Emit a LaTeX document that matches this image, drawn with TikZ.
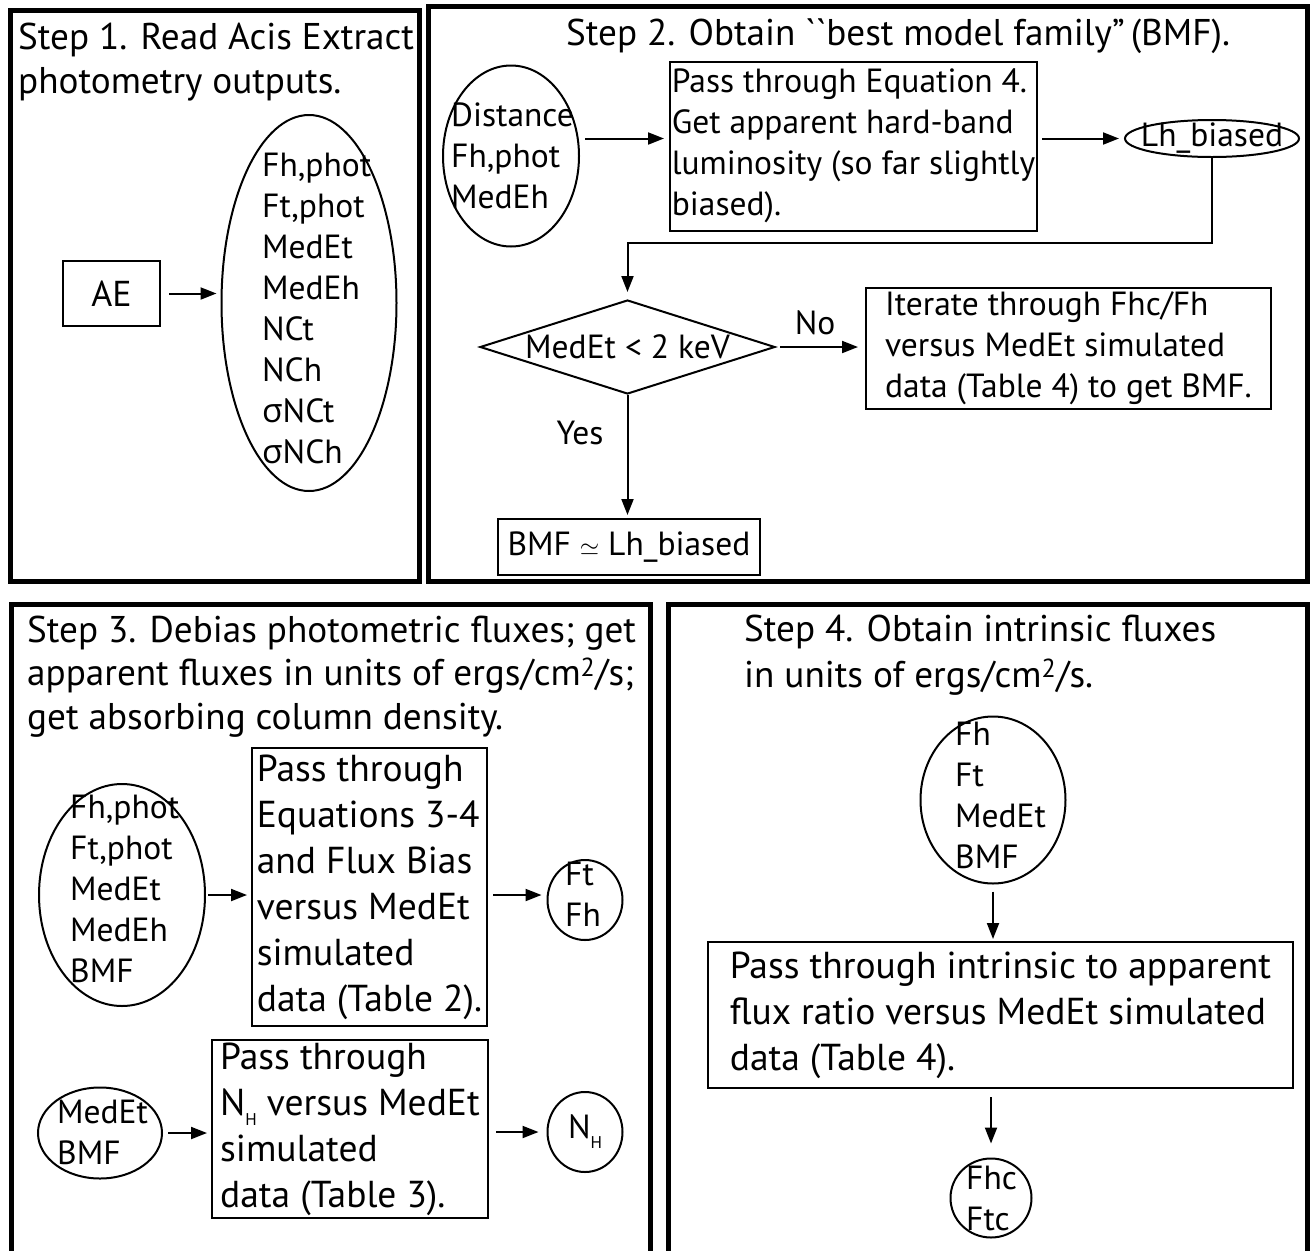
\documentclass[tikz,border=0pt]{standalone}
\usepackage{fontspec}
\setmainfont{PT Sans}
\newfontfamily\grk{Open Sans}
\usetikzlibrary{shapes.geometric,arrows.meta,positioning}
\newcommand{\NH}{N\raisebox{-10pt}{\fontsize{17}{17}\selectfont H}}

\begin{document}
\begin{tikzpicture}[x=1pt,y=-1pt,>={Triangle[length=16pt,width=12pt]},
  font=\fontsize{33.5}{41}\selectfont,
  panel/.style={line width=5pt},
  box/.style={draw,line width=2pt,align=left,inner sep=0pt,anchor=north west},
  oval/.style={draw,ellipse,line width=2pt,inner sep=-45pt},
  list/.style={align=left,inner sep=0pt},
  flow/.style={->,line width=2pt,shorten <=5pt,shorten >=5pt},
  title/.style={anchor=base west,inner sep=0pt,align=left,font=\fontsize{37.2}{43.5}\selectfont},
  big/.style={font=\fontsize{37.5}{46}\selectfont}]
  \useasboundingbox (0,0) rectangle (1310,1251);
  % the four panels (lower two run off the page)
  \draw[panel] (10,10) rectangle (419,581);
  \draw[panel] (428,6) rectangle (1307,581);
  \draw[panel] (11,1260) |- (650,604) -- (650,1260);
  \draw[panel] (668,1260) |- (1307,604) -- (1307,1260);

  % Step 1 (base anchor = last line)
  \node[title] (t1) at (18,93) {Step 1. Read Acis Extract\\photometry outputs.};
  \node[draw,line width=2pt,minimum width=97pt,minimum height=65pt,font=\fontsize{36}{40}\selectfont] (ae) at (111.5,293.5) {AE};
  \node[oval,minimum width=175pt,minimum height=376pt] (aeout) at (309,303) {};
  \node[list,right] (aelist) at (262,308.5)
    {Fh,phot\\Ft,phot\\MedEt\\MedEh\\NCt\\NCh\\{\grk σ}NCt\\{\grk σ}NCh};
  \draw[flow,shorten <=8pt,shorten >=4pt] (ae.east) -- (ae.east -| aeout.west);

  % Step 2
  \node[title] (t2) at (566,45) {Step 2. Obtain \textasciigrave\textasciigrave best model family''\,(BMF).};
  \node[oval,minimum width=136pt,minimum height=181pt] (p2in) at (511,156) {};
  \node[list,right] (p2list) at (451,156) {Distance\\Fh,phot\\MedEh};
  \node[box,minimum width=367pt,minimum height=169pt] (eq4) at (669,60.5)
    {Pass through Equation 4.\\Get apparent hard-band\\luminosity (so far slightly\\biased).};
  \node[oval,minimum width=174pt,minimum height=37pt] (lh) at (1212,138.5) {Lh\_biased};
  \draw[flow] (p2in.east |- lh.west) -- (eq4.west |- lh.west);
  \draw[flow,shorten <=4pt] (eq4.east |- lh.west) -- (lh.west);
  \node[diamond,draw,line width=2pt,aspect=3.2,inner sep=0pt,minimum width=295pt,minimum height=94pt] (dec) at (627.5,347) {MedEt < 2 keV};
  \draw[flow,shorten <=0pt,shorten >=7pt] (lh.south) -- ++(0,85) -| (dec.north);
  \node[box,minimum width=405pt,minimum height=121pt] (iter) at (865,287)
    {Iterate through Fhc/Fh\\versus MedEt simulated\\data (Table 4) to get BMF.};
  \draw[flow,shorten <=4pt,shorten >=7pt] (dec.east) -- (iter.west |- dec.east);
  \node (no) at (815,323) {No};
  \node[draw,line width=2pt,minimum width=262pt,minimum height=56pt] (bmf) at (629,547) {BMF $\simeq$ Lh\_biased};
  \draw[flow,shorten <=0pt,shorten >=3pt] (dec.south) -- (dec.south |- bmf.north);
  \node (yes) at (580,433) {Yes};

  % Step 3
  \node[title] (t3) at (27,729) {Step 3. Debias photometric fluxes; get\\apparent fluxes in units of ergs/cm\textsuperscript{2}/s;\\get absorbing column density.};
  \node[oval,minimum width=166pt,minimum height=222pt] (p3in) at (122,895) {};
  \node[list,right] (p3list) at (70,888.5) {Fh,phot\\Ft,phot\\MedEt\\MedEh\\BMF};
  \node[box,big,minimum width=235pt,minimum height=278pt] (debias) at (251,747)
    {Pass through\\Equations 3-4\\and Flux Bias\\versus MedEt\\simulated\\data (Table 2).};
  \node[oval,minimum width=75pt,minimum height=80pt] (ftfh) at (585,900) {};
  \node[list,right] (ftfhlist) at (565,894) {Ft\\Fh};
  \draw[flow,shorten <=2pt,shorten >=4pt] (p3in.east) -- (debias.west |- p3in.east);
  \draw[flow] (debias.east |- p3in.east) -- (ftfh.west |- p3in.east);
  \node[oval,minimum width=124pt,minimum height=91pt] (p3in2) at (100,1133) {};
  \node[list,right] (p3list2) at (57,1132) {MedEt\\BMF};
  \node[box,big,minimum width=276pt,minimum height=178pt] (nhbox) at (211,1039)
    {Pass through\\\NH{} versus MedEt\\simulated\\data (Table 3).};
  \node[oval,minimum width=75pt,minimum height=80pt] (nh) at (585,1132) {\NH};
  \draw[flow,shorten >=4pt] (p3in2.east) -- (p3in2.east -| nhbox.west);
  \draw[flow,shorten <=7pt,shorten >=8pt] (nhbox.east |- nh.west) -- (nh.west);

  % Step 4
  \node[title] (t4) at (744,687) {Step 4. Obtain intrinsic fluxes\\[2pt]in units of ergs/cm\textsuperscript{2}/s.};
  \node[oval,minimum width=145pt,minimum height=167pt] (p4in) at (993,800) {};
  \node[list,right] (p4list) at (955,795) {Fh\\Ft\\MedEt\\BMF};
  \node[box,big,minimum width=585pt,minimum height=146pt] (ratio) at (707,941)
    {Pass through intrinsic to apparent\\flux ratio versus MedEt simulated\\data (Table 4).};
  \node[oval,minimum width=81pt,minimum height=79pt] (p4out) at (991,1198) {};
  \node[list,right] (p4outlist) at (966,1198.5) {Fhc\\Ftc};
  \draw[flow,shorten <=7pt,shorten >=2pt] (p4in.south) -- (p4in.south |- ratio.north);
  \draw[flow,shorten <=8pt,shorten >=14pt] (ratio.south -| p4out) -- (p4out.north);
\end{tikzpicture}
\end{document}
